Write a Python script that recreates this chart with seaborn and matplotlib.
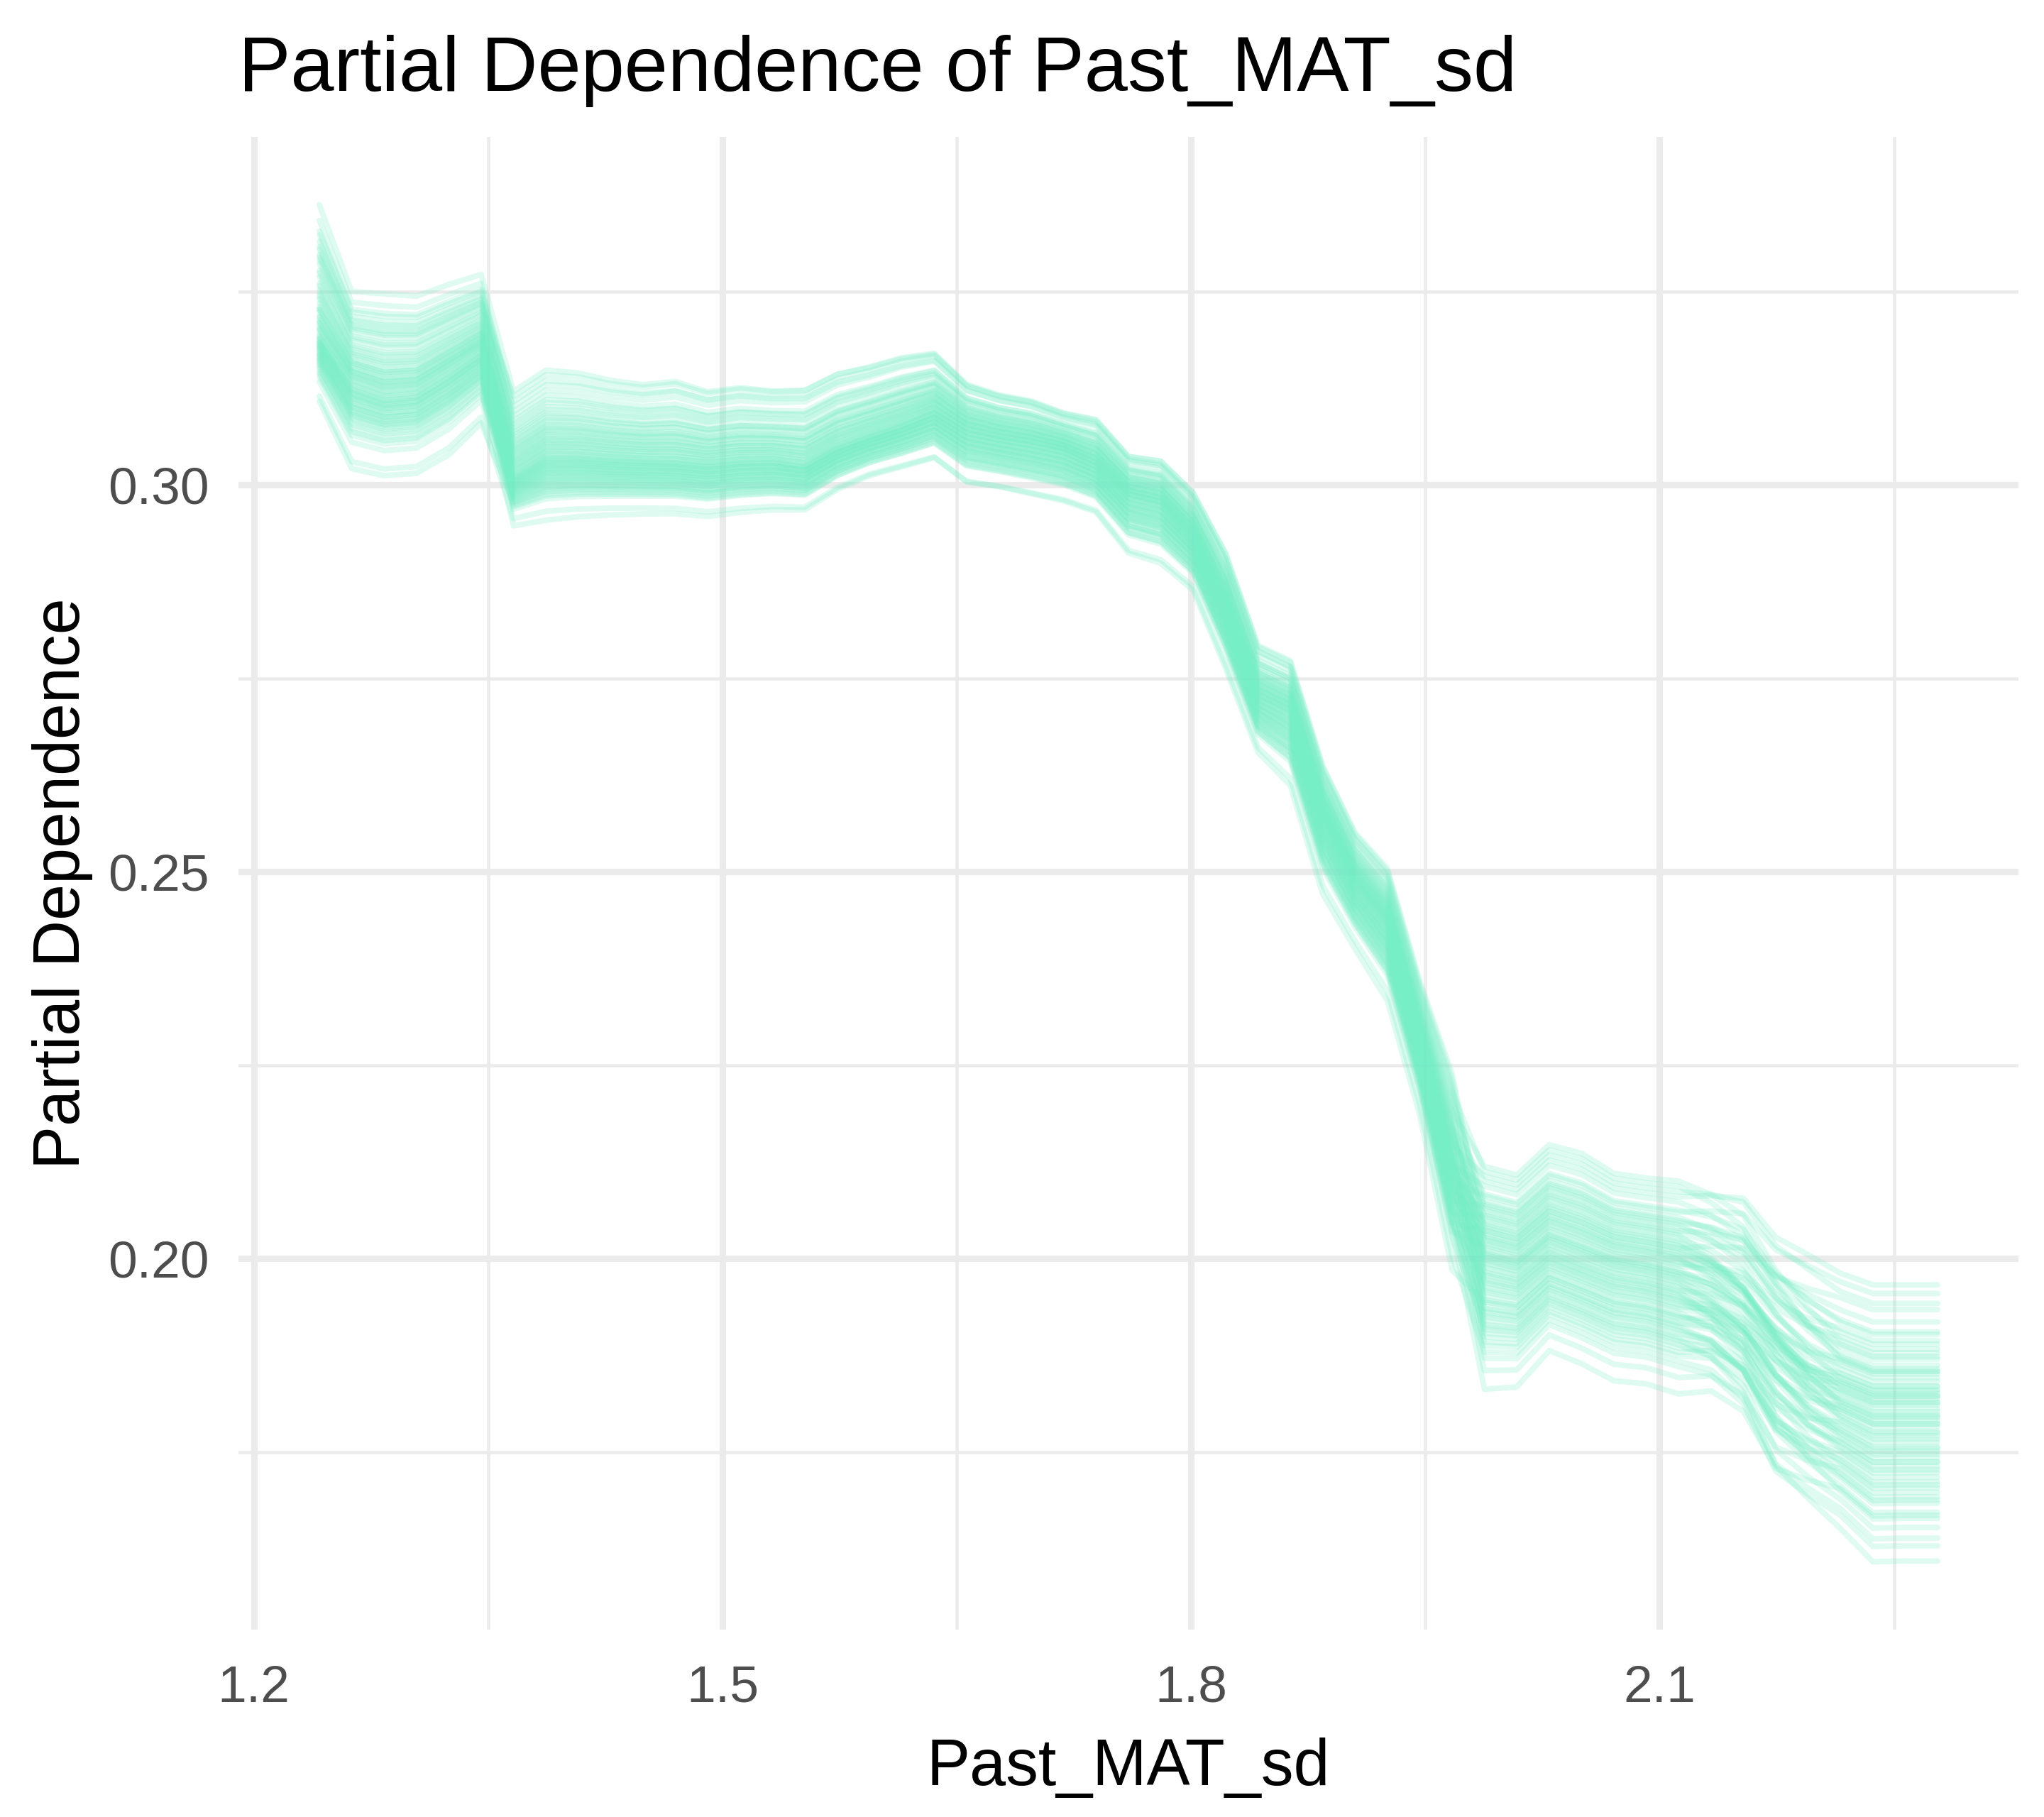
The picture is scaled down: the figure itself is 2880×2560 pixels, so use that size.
import numpy as np
import pandas as pd
import matplotlib
matplotlib.use("Agg")
import matplotlib.pyplot as plt
from matplotlib.ticker import FixedLocator, FormatStrFormatter
import seaborn as sns

# ---------------- data ----------------
past_mat_sd = [1.2419, 1.2626, 1.2833, 1.3041, 1.3248, 1.3455, 1.3662, 1.3869, 1.4077, 1.4284,
               1.4491, 1.4698, 1.4905, 1.5113, 1.5320, 1.5527, 1.5734, 1.5941, 1.6149, 1.6356,
               1.6563, 1.6770, 1.6977, 1.7185, 1.7392, 1.7599, 1.7806, 1.8013, 1.8221, 1.8428,
               1.8635, 1.8842, 1.9049, 1.9257, 1.9464, 1.9671, 1.9878, 2.0085, 2.0293, 2.0500,
               2.0707, 2.0914, 2.1121, 2.1329, 2.1536, 2.1743, 2.1950, 2.2157, 2.2365, 2.2572,
               2.2779]

# lower edge, centre and upper edge of the bundle of ICE curves at each grid point
pd_low = [0.3108, 0.3021, 0.3012, 0.3015, 0.3039, 0.3080, 0.2947, 0.2954, 0.2958, 0.2960,
          0.2961, 0.2961, 0.2957, 0.2962, 0.2965, 0.2965, 0.2991, 0.3009, 0.3020, 0.3031,
          0.2999, 0.2993, 0.2984, 0.2975, 0.2961, 0.2908, 0.2895, 0.2861, 0.2760, 0.2652,
          0.2609, 0.2469, 0.2399, 0.2332, 0.2185, 0.1985, 0.1831, 0.1834, 0.1881, 0.1864,
          0.1842, 0.1838, 0.1825, 0.1821, 0.1786, 0.1696, 0.1673, 0.1651, 0.1608, 0.1609,
          0.1609]
pd_mid = [0.3193, 0.3135, 0.3120, 0.3124, 0.3150, 0.3177, 0.3010, 0.3036, 0.3036, 0.3033,
          0.3031, 0.3030, 0.3026, 0.3030, 0.3031, 0.3025, 0.3048, 0.3063, 0.3077, 0.3094,
          0.3069, 0.3060, 0.3053, 0.3044, 0.3025, 0.2985, 0.2975, 0.2930, 0.2840, 0.2725,
          0.2705, 0.2572, 0.2485, 0.2432, 0.2279, 0.2112, 0.1992, 0.1981, 0.2015, 0.1999,
          0.1984, 0.1977, 0.1966, 0.1951, 0.1924, 0.1879, 0.1842, 0.1823, 0.1806, 0.1806,
          0.1806]
pd_high = [0.3362, 0.3250, 0.3247, 0.3244, 0.3259, 0.3272, 0.3121, 0.3149, 0.3146, 0.3137,
           0.3132, 0.3137, 0.3124, 0.3130, 0.3126, 0.3128, 0.3149, 0.3158, 0.3170, 0.3175,
           0.3134, 0.3120, 0.3112, 0.3096, 0.3088, 0.3040, 0.3034, 0.2993, 0.2915, 0.2795,
           0.2775, 0.2639, 0.2552, 0.2505, 0.2359, 0.2239, 0.2119, 0.2108, 0.2147, 0.2136,
           0.2110, 0.2104, 0.2100, 0.2099, 0.2093, 0.2037, 0.2010, 0.1981, 0.1966, 0.1966,
           0.1966]

# relative position of each ICE curve inside the bundle (-1 = lower edge, 1 = upper edge)
pos_left = [-0.55, -0.92, -0.35, -0.70, -0.20, -0.48, -1.00, -0.30, -0.62, -0.10,
            -0.42, -0.25, -0.58, -0.05, -0.38, -0.15, -0.50, 0.05, -0.28, -0.44,
            -0.12, -0.33, 0.10, -0.22, -0.40, -0.02, -0.18, 0.15, -0.30, -0.08,
            0.02, -0.36, 0.20, -0.14, 0.08, -0.26, 0.25, -0.04, 0.12, -0.20,
            0.30, 0.00, 0.18, -0.10, 0.35, 0.06, 0.22, -0.16, 0.40, 0.14,
            0.28, 0.04, 0.45, 0.10, 0.55, 0.20, 0.62, 0.32, 0.50, 0.66,
            0.38, 0.72, 0.58, 0.80, 0.48, 0.88, 0.68, 0.77, 0.60, 1.00]
pos_mid_start = [-1.00, -0.85, -0.66, -0.61, -0.58, -0.55, -0.52, -0.50, -0.47, -0.45,
                 -0.42, -0.40, -0.38, -0.36, -0.34, -0.32, -0.30, -0.28, -0.26, -0.25,
                 -0.23, -0.21, -0.19, -0.18, -0.16, -0.14, -0.13, -0.11, -0.09, -0.08,
                 -0.06, -0.04, -0.03, -0.01, 0.01, 0.02, 0.04, 0.06, 0.07, 0.09,
                 0.11, 0.12, 0.14, 0.16, 0.18, 0.19, 0.21, 0.23, 0.25, 0.27,
                 0.29, 0.31, 0.33, 0.35, 0.37, 0.40, 0.42, 0.45, 0.48, 0.51,
                 0.54, 0.58, 0.62, 0.66, 0.71, 0.76, 0.82, 0.88, 0.94, 1.00]
pos_mid_end = [-0.85, -1.00, -0.58, -0.66, -0.61, -0.47, -0.55, -0.45, -0.52, -0.50,
               -0.36, -0.42, -0.34, -0.38, -0.40, -0.26, -0.32, -0.25, -0.30, -0.28,
               -0.18, -0.23, -0.16, -0.21, -0.19, -0.09, -0.14, -0.08, -0.13, -0.11,
               -0.01, -0.06, 0.01, -0.04, -0.03, 0.07, 0.02, 0.09, 0.04, 0.06,
               0.16, 0.11, 0.18, 0.12, 0.14, 0.25, 0.19, 0.27, 0.21, 0.23,
               0.35, 0.29, 0.37, 0.31, 0.33, 0.48, 0.40, 0.51, 0.42, 0.45,
               0.66, 0.54, 0.71, 0.58, 0.62, 0.88, 1.00, 0.76, 0.94, 0.82]
pos_right_start = [-0.70, -0.30, -1.00, -0.50, 0.20, -0.85, -0.10, -0.62, 0.35, -0.40,
                   -0.20, 0.50, -0.75, 0.05, -0.55, 0.28, -0.35, -0.05, 0.60, -0.45,
                   0.12, -0.25, 0.42, -0.65, 0.00, 0.70, -0.15, -0.58, 0.32, 0.08,
                   -0.38, 0.52, -0.02, 0.18, -0.48, 0.80, -0.22, 0.25, -0.12, 0.45,
                   -0.30, 0.10, 0.62, -0.42, 0.38, 0.02, -0.18, 0.90, 0.15, -0.08,
                   0.55, -0.52, 0.30, -0.28, 0.72, 0.06, 0.40, -0.35, 0.22, 0.85,
                   -0.14, 0.48, 0.65, 0.12, 1.00, -0.06, 0.35, 0.58, 0.26, 0.95]
pos_right_end = [-0.85, 0.10, -0.70, -1.00, 0.55, -0.55, -0.40, -0.20, 0.80, -0.62,
                 0.15, 0.40, -0.90, -0.30, -0.78, 0.05, -0.10, 0.30, 0.62, -0.35,
                 0.25, -0.58, -0.05, -0.48, -0.25, 0.93, 0.18, -0.42, 0.08, -0.15,
                 -0.68, 0.70, -0.32, 0.48, -0.52, 0.35, -0.02, -0.18, -0.38, 0.22,
                 -0.08, 0.12, 0.52, -0.60, 0.00, -0.28, 0.03, 0.85, -0.12, -0.22,
                 0.42, -0.45, 0.28, -0.35, 0.60, 0.10, -0.06, -0.26, 0.18, 1.00,
                 -0.50, -0.16, 0.32, 0.05, 0.45, -0.72, -0.04, 0.14, -0.10, 0.30]

x_major = [1.2, 1.5, 1.8, 2.1]
x_minor = [1.35, 1.65, 1.95, 2.25]
y_major = [0.20, 0.25, 0.30]
y_minor = [0.175, 0.225, 0.275, 0.325]

title_text = "Partial Dependence of Past_MAT_sd"
x_label = "Past_MAT_sd"
y_label = "Partial Dependence"

# ---------------- build the ICE curves ----------------
xg = np.array(past_mat_sd)
lo, mid, hi = np.array(pd_low), np.array(pd_mid), np.array(pd_high)
pl = np.array(pos_left)
pms, pme = np.array(pos_mid_start), np.array(pos_mid_end)
prs, pre = np.array(pos_right_start), np.array(pos_right_end)
n_lines, n_pts = len(pl), len(xg)
idx = np.arange(n_pts)

w = np.empty((n_lines, n_pts))
w[:, :6] = pl[:, None]
t_mid = (idx[6:36] - 6) / 29.0
w[:, 6:36] = pms[:, None] * (1 - t_mid) + pme[:, None] * t_mid
t_right = np.clip((idx[36:] - 42) / 5.0, 0, 1)
w[:, 36:] = prs[:, None] * (1 - t_right) + pre[:, None] * t_right
yv = mid + np.where(w >= 0, w * (hi - mid), w * (mid - lo))

df = pd.DataFrame({
    "Past_MAT_sd": np.tile(xg, n_lines),
    "pd": yv.ravel(),
    "id": np.repeat(np.arange(n_lines), n_pts),
})

# ---------------- plot ----------------
sns.set_theme(style="white")
plt.rcParams["font.family"] = ["Liberation Sans", "DejaVu Sans"]

W, H = 2880, 2560
fig = plt.figure(figsize=(W / 300, H / 300), dpi=300)
left, right, top, bottom = 336, 2844, 193, 2296
ax = fig.add_axes([left / W, 1 - bottom / H, (right - left) / W, (bottom - top) / H])

sns.lineplot(data=df, x="Past_MAT_sd", y="pd", units="id", estimator=None,
             color="#76EEC6", alpha=0.24, linewidth=1.9, ax=ax, legend=False)

ax.margins(x=0.05, y=0.05)
ax.xaxis.set_major_locator(FixedLocator(x_major))
ax.xaxis.set_minor_locator(FixedLocator(x_minor))
ax.yaxis.set_major_locator(FixedLocator(y_major))
ax.yaxis.set_minor_locator(FixedLocator(y_minor))
ax.xaxis.set_major_formatter(FormatStrFormatter("%.1f"))
ax.yaxis.set_major_formatter(FormatStrFormatter("%.2f"))

ax.set_axisbelow(True)
ax.grid(which="major", color="#EBEBEB", linewidth=2.2)
ax.grid(which="minor", color="#EBEBEB", linewidth=1.1)
for s in ax.spines.values():
    s.set_visible(False)
ax.tick_params(axis="both", which="both", length=0, labelsize=17.6, labelcolor="#4D4D4D")
ax.tick_params(axis="x", pad=12)
ax.tick_params(axis="y", pad=10)

ax.set_xlabel(x_label, fontsize=22, color="black")
ax.set_ylabel(y_label, fontsize=22, color="black")
ax.xaxis.label.set_va("baseline")
ax.xaxis.set_label_coords(0.5, -(2515 - bottom) / (bottom - top))
ax.yaxis.label.set_va("center")
ax.yaxis.set_label_coords(-(left - 88) / (right - left), 0.5)

fig.text(left / W, 1 - 128 / H, title_text, fontsize=26.4, color="black",
         ha="left", va="baseline")

fig.savefig("out.png", dpi=300, facecolor="white")
